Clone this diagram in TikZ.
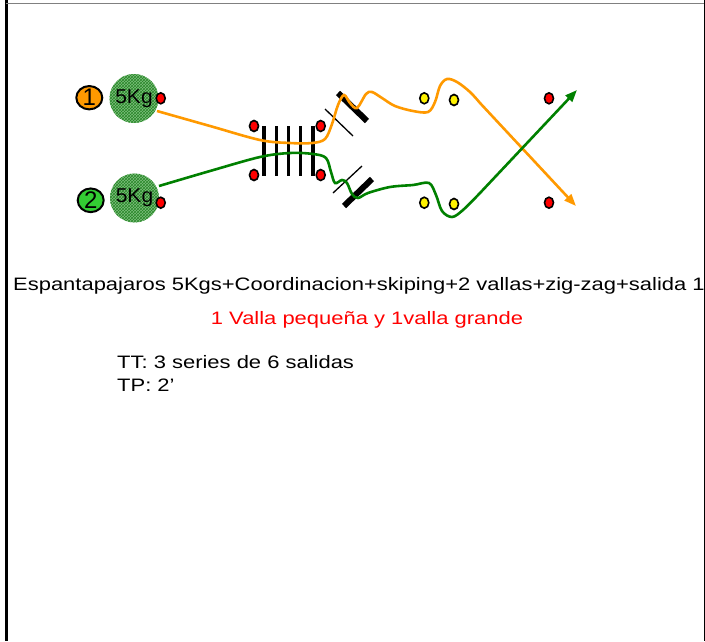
\documentclass[tikz,border=0pt]{standalone}
\usepackage{fontspec}
\setmainfont{Liberation Sans}
\usetikzlibrary{arrows.meta,patterns,shapes.geometric}
\definecolor{orng}{RGB}{255,153,0}
\definecolor{grn}{RGB}{0,128,0}
\definecolor{lgrn}{RGB}{51,204,51}
\definecolor{ballg}{RGB}{125,190,125}
\definecolor{ballh}{RGB}{40,135,40}
\definecolor{txtred}{RGB}{255,0,0}
\newcommand{\wide}[1]{\scalebox{1.22}[1]{#1}}
\tikzset{
  cone/.style={ellipse,draw=black,line width=1.6pt,minimum width=9pt,minimum height=11pt,inner sep=0pt},
  reddot/.style={cone,fill=red},
  yeldot/.style={cone,fill=yellow},
  ball/.style={circle,minimum size=49pt,inner sep=0pt,preaction={fill=ballg},pattern=crosshatch,pattern color=ballh,font=\fontsize{20}{22}\selectfont},
  numc/.style={ellipse,draw=black,line width=2pt,minimum width=26pt,minimum height=23pt,inner sep=0pt,font=\fontsize{24}{24}\selectfont},
  rung/.style={line width=3.2pt},
  hthick/.style={line width=6pt},
  hthin/.style={line width=1.3pt},
  runpath/.style={line width=2.6pt,-{Triangle[length=12pt,width=9pt]}},
  txt/.style={font=\fontsize{18}{22}\selectfont,inner sep=0pt}
}
\begin{document}
\begin{tikzpicture}[x=1pt,y=-1pt]
\useasboundingbox (0,0) rectangle (705,641);
\clip (0,0) rectangle (705,641);
% frame
\draw[line width=3pt] (6,0) -- (6,641);
\draw[gray,line width=1pt] (6,3.5) -- (705,3.5);
\draw[line width=1pt] (704.5,0) -- (704.5,641);
% players
\node[numc,fill=orng] (n1) at (89.3,97.7) {1};
\node[numc,fill=lgrn] (n2) at (90.7,200.3) {2};
\node[ball] (b1) at (134,98.5) {\scalebox{1.05}[1]{5Kg}};
\node[ball] (b2) at (134.5,198) {\scalebox{1.05}[1]{5Kg}};
\node[reddot] (s1) at (160.7,98.3) {};
\node[reddot] (s2) at (160.7,202.7) {};
% ladder
\foreach \x in {264,276.5,288.5,300.5,313}
  \draw[rung] (\x,126) -- (\x,176);
\node[reddot] (l1) at (254,126) {};
\node[reddot] (l2) at (320.7,126) {};
\node[reddot] (l3) at (254,175) {};
\node[reddot] (l4) at (320.7,175) {};
% hurdles
\draw[hthin] (325,109) -- (353,136);
\draw[hthick] (338,93) -- (367,121);
\draw[hthin] (333,193) -- (362,166);
\draw[hthick] (344,206) -- (372,179);
% cones
\node[yeldot] (y1) at (424.3,98.3) {};
\node[yeldot] (y2) at (454,100) {};
\node[yeldot] (y3) at (424.3,202.7) {};
\node[yeldot] (y4) at (454,204) {};
\node[reddot] (r1) at (549,98.3) {};
\node[reddot] (r2) at (549,202.7) {};
% paths
\coordinate (oend) at (576,206);
\coordinate (gend) at (577,90);
\draw[orng,runpath] plot[smooth,tension=0.55] coordinates {(157,111) (210,126) (260,140) (290,143) (312,143) (325,139) (332,124) (338,105) (344,95) (350,103) (357,108) (366,94) (372,92) (382,98) (395,106) (413,111) (428,112) (435,102) (440,86) (447,79) (457,82) (470,92) (480,103)} -- (oend);
\draw[grn,runpath] plot[smooth,tension=0.55] coordinates {(159,186) (210,171) (260,157) (290,153) (313,154) (326,158) (331,172) (335,183) (342,180) (347,183) (352,194) (358,198) (368,193) (390,187) (413,185) (429,183) (436,195) (442,211) (452,217) (463,210) (480,193)} -- (gend);
% texts
\node[txt,anchor=base west] (t1) at (13,290) {\wide{Espantapajaros 5Kgs+Coordinacion+skiping+2 vallas+zig-zag+salida 15}};
\node[txt,anchor=base,text=txtred] (t2) at (367,324) {\wide{1 Valla pequeña y 1valla grande}};
\node[txt,anchor=base west] (t3) at (117,368) {\wide{TT: 3 series de 6 salidas}};
\node[txt,anchor=base west] (t4) at (117,391) {\wide{TP: 2’}};
\end{tikzpicture}
\end{document}
